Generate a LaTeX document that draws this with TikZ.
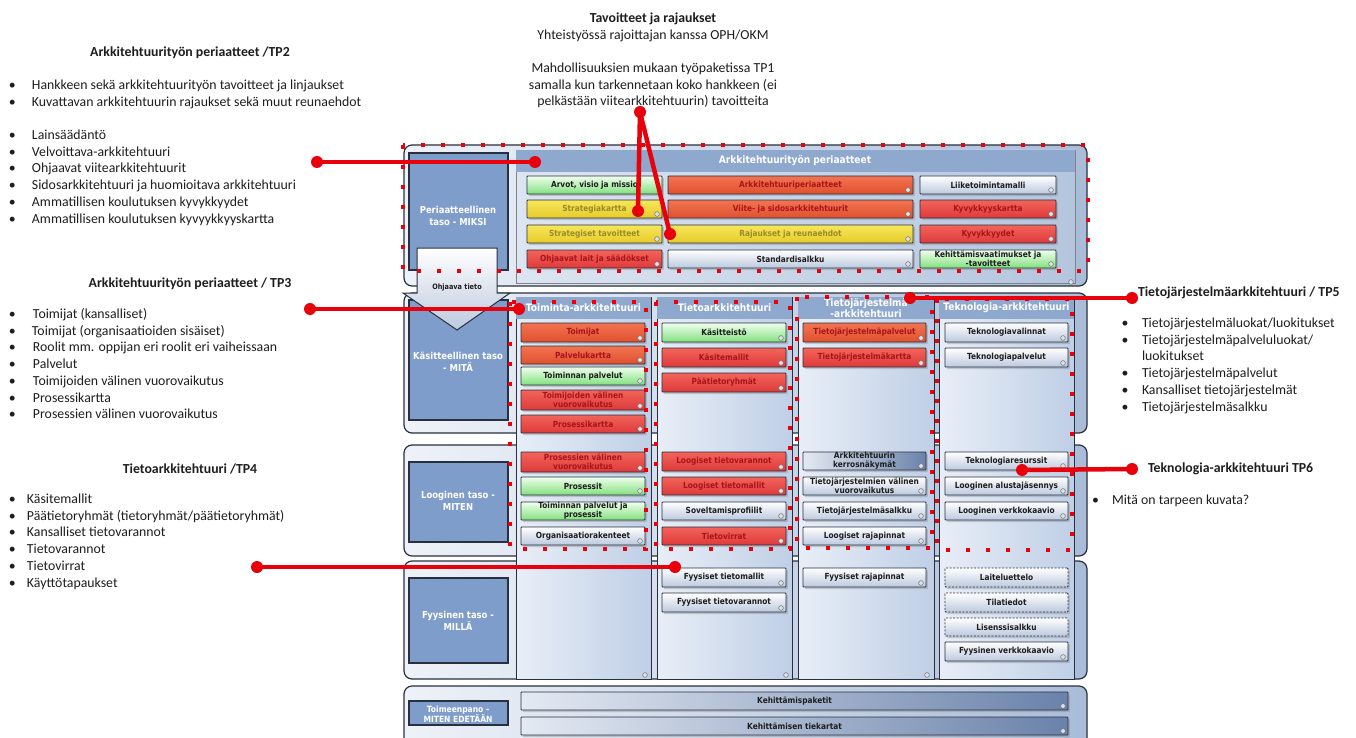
\documentclass[tikz,border=0pt]{standalone}
\usepackage{fontspec}
\setmainfont{Carlito}
\newfontfamily\bxfont{DejaVu Sans}[FakeStretch=0.88]
\usetikzlibrary{shadows}
\definecolor{ink}{HTML}{1E1E1E}
\definecolor{edge}{HTML}{283040}
\definecolor{redc}{HTML}{E8000A}
\definecolor{rowL}{HTML}{EEF2F8}
\definecolor{rowR}{HTML}{A9BCD8}
\definecolor{colL}{HTML}{E8EEF7}
\definecolor{colR}{HTML}{BFCFE6}
\definecolor{hdr}{HTML}{8FA8CE}
\definecolor{lbl}{HTML}{7F9DCB}
\definecolor{inL}{HTML}{DCE5F1}
\definecolor{inR}{HTML}{B4C5DE}
\definecolor{redT}{HTML}{F2645A}
\definecolor{redB}{HTML}{DE3A3A}
\definecolor{orgT}{HTML}{F27452}
\definecolor{orgB}{HTML}{E0502E}
\definecolor{yelT}{HTML}{F7E65A}
\definecolor{yelB}{HTML}{E6CC2A}
\definecolor{grnT}{HTML}{F0FFEE}
\definecolor{grnB}{HTML}{82E07E}
\definecolor{whtT}{HTML}{FFFFFF}
\definecolor{whtB}{HTML}{BCC9DE}
\definecolor{bluL}{HTML}{E4EAF3}
\definecolor{bluR}{HTML}{6A82AA}
\definecolor{redtxt}{HTML}{A8141A}
\definecolor{yeltxt}{HTML}{9A8A2A}
\newcommand\mkbox[7]{%
  \node[#6, minimum width={#4-#2}, minimum height={#5-#3}] (#1) at ({(#2+#4)/2},{(#3+#5)/2}) {#7};%
  \path[icon] ({#4-5},{#5-4}) circle (2.4pt);}
\newcommand\mkboxn[7]{%
  \node[#6, minimum width={#4-#2}, minimum height={#5-#3}] (#1) at ({(#2+#4)/2},{(#3+#5)/2}) {#7};}
\newcommand\mkcol[4]{%
  \path[colbody] (#2,297) rectangle (#3,679);
  \path[colhead] (#2,297) rectangle (#3,319);
  \node[coltxt] (#1) at ({(#2+#3)/2},308) {#4};}
\newcommand\mkli[6]{% name, bullet x, gap, y, text
  \node[lst, anchor=base west] (#1) at (#2,{#4+4.5}) {\makebox[#3pt][l]{\textbullet}#5};}
\begin{document}
\begin{tikzpicture}[x=1pt,y=-1pt,
  every node/.style={inner sep=0pt,outer sep=0pt},
  lst/.style={font=\fontsize{13.8}{16.7}\selectfont, text=ink},
  lsthd/.style={font=\bfseries\fontsize{13.8}{16.7}\selectfont, text=ink},
  shd/.style={drop shadow={opacity=0.35,shadow xshift=1.8pt,shadow yshift=-2pt}},
  bxbase/.style={shd, draw=edge, line width=0.9pt, rounded corners=0.8pt, align=center, font=\bxfont\bfseries\fontsize{8.4}{9.3}\selectfont},
  bred/.style={bxbase, top color=redT, bottom color=redB, text=redtxt},
  borg/.style={bxbase, top color=orgT, bottom color=orgB, text=redtxt},
  byel/.style={bxbase, top color=yelT, bottom color=yelB, text=yeltxt},
  bgreen/.style={bxbase, top color=grnT, bottom color=grnB, text=ink},
  bwhite/.style={bxbase, top color=whtT, bottom color=whtB, text=ink},
  bblue/.style={bxbase, left color=bluL, right color=bluR, text=ink},
  bdash/.style={bxbase, top color=whtT, bottom color=whtB, text=ink, dash pattern=on 2pt off 1.5pt},
  icon/.style={fill=white!85!edge, draw=edge!70, line width=0.5pt},
  rowp/.style={draw=edge, line width=1.2pt, rounded corners=8pt, left color=rowL, right color=rowR},
  lblbox/.style={draw=edge, line width=1.1pt, fill=lbl},
  lbltxt/.style={align=center, text=white, font=\bxfont\bfseries\fontsize{9.6}{11.5}\selectfont},
  coltxt/.style={align=center, text=white, font=\bxfont\bfseries\fontsize{10.3}{10.8}\selectfont},
  colbody/.style={draw=edge, line width=0.9pt, left color=colL, right color=colR},
  colhead/.style={fill=hdr},
  reddots/.style={draw=redc, line width=4pt, dash pattern=on 4pt off 16pt},
  rcon/.style={draw=redc, line width=4.5pt},
  rdot/.style={circle, fill=redc, minimum size=12pt},
]
\useasboundingbox (0,0) rectangle (1356,738);
\fill[white] (0,0) rectangle (1356,738);

% row panels
\path[rowp] (404,145) rectangle (1087,286);
\path[rowp] (404,293) rectangle (1087,433);
\path[rowp] (404,445) rectangle (1087,556);
\path[rowp] (404,561) rectangle (1087,679);
\path[rowp] (404,686) rectangle (1087,770);

% level label boxes
\node[lblbox, minimum width=99, minimum height=117] (lab1) at (458.5,211.5) {};
\node[lbltxt] (lab1t) at (458,216) {Periaatteellinen\\taso - MIKSI};
\node[lblbox, minimum width=99, minimum height=120] (lab2) at (458.5,360) {};
\node[lbltxt] (lab2t) at (458,362) {Käsitteellinen taso\\- MITÄ};
\node[lblbox, minimum width=99, minimum height=80] (lab3) at (458.5,502) {};
\node[lbltxt] (lab3t) at (458,501) {Looginen taso -\\MITEN};
\node[lblbox, minimum width=99, minimum height=85] (lab4) at (458.5,620.5) {};
\node[lbltxt] (lab4t) at (458,621) {Fyysinen taso -\\MILLÄ};
\node[lblbox, minimum width=99, minimum height=24] (lab5) at (458.5,713) {};
\node[lbltxt, font=\bxfont\bfseries\fontsize{8.6}{10.5}\selectfont] (lab5t) at (458,714) {Toimeenpano -\\MITEN EDETÄÄN};

% guiding arrow
\path[draw=edge, line width=1pt, top color=white, bottom color=whtB] (417,248) -- (497,248) -- (497,293) -- (510,293) -- (457,330) -- (403,293) -- (417,293) -- cycle;
\node[font=\bxfont\bfseries\fontsize{7.4}{8}\selectfont, text=ink] (ohj) at (457,287) {Ohjaava tieto};

% row 1 inner panel
\path[draw=edge!60, line width=0.6pt, left color=inL, right color=inR] (516,150) rectangle (1075,283);
\path[fill=hdr] (516,150) rectangle (1075,172);
\node[coltxt] (apt) at (795,161) {Arkkitehtuurityön periaatteet};

% columns
\mkcol{ctoim}{516}{651}{Toiminta-arkkitehtuuri}
\mkcol{ctieto}{657}{792}{Tietoarkkitehtuuri}
\mkcol{ctj}{798}{934}{Tietojärjestelmä\\-arkkitehtuuri}
\mkcol{ctek}{939}{1074}{Teknologia-arkkitehtuuri}

% row 1 boxes
\mkboxn{arvot}{527}{176}{662}{194}{bgreen}{Arvot, visio ja missio}
\mkbox{strk}{527}{200}{662}{218}{byel}{Strategiakartta}
\mkbox{strt}{527}{225}{662}{243}{byel}{Strategiset tavoitteet}
\mkbox{lait}{527}{250}{662}{268}{bred}{Ohjaavat lait ja säädökset}
\mkbox{akp}{668}{176}{913}{194}{borg}{Arkkitehtuuriperiaatteet}
\mkbox{viite}{668}{200}{913}{218}{borg}{Viite- ja sidosarkkitehtuurit}
\mkbox{raj}{668}{225}{913}{243}{byel}{Rajaukset ja reunaehdot}
\mkbox{std}{668}{250}{913}{268}{bwhite}{Standardisalkku}
\mkbox{liike}{920}{176}{1056}{194}{bwhite}{Liiketoimintamalli}
\mkbox{kkart}{920}{200}{1056}{218}{bred}{Kyvykkyyskartta}
\mkbox{kyv}{920}{225}{1056}{243}{bred}{Kyvykkyydet}
\mkbox{kehv}{920}{250}{1056}{268}{bgreen}{Kehittämisvaatimukset ja\\-tavoitteet}

% row 2 boxes
\mkbox{toimijat}{521}{323}{645}{342}{borg}{Toimijat}
\mkbox{palvk}{521}{346}{645}{364}{borg}{Palvelukartta}
\mkbox{toimp}{521}{367}{645}{385}{bgreen}{Toiminnan palvelut}
\mkbox{tvv}{521}{390}{645}{410}{bred}{Toimijoiden välinen\\vuorovaikutus}
\mkbox{proskart}{521}{415}{645}{433}{bred}{Prosessikartta}
\mkbox{kasitt}{662}{323}{786}{342}{bgreen}{Käsitteistö}
\mkbox{kasm}{662}{348}{786}{367}{bred}{Käsitemallit}
\mkbox{ptr}{662}{373}{786}{392}{bred}{Päätietoryhmät}
\mkbox{tjp}{803}{323}{926}{342}{borg}{Tietojärjestelmäpalvelut}
\mkbox{tjk}{803}{348}{926}{367}{bred}{Tietojärjestelmäkartta}
\mkbox{tval}{945}{323}{1068}{342}{bwhite}{Teknologiavalinnat}
\mkbox{tpal}{945}{348}{1068}{367}{bwhite}{Teknologiapalvelut}

% row 3 boxes
\mkbox{pvv}{521}{452}{645}{472}{bred}{Prosessien välinen\\vuorovaikutus}
\mkbox{pros}{521}{477}{645}{495}{bgreen}{Prosessit}
\mkboxn{tpp}{521}{502}{645}{520}{bgreen}{Toiminnan palvelut ja\\prosessit}
\mkbox{org}{521}{527}{645}{545}{bwhite}{Organisaatiorakenteet}
\mkbox{ltv}{662}{452}{786}{471}{bred}{Loogiset tietovarannot}
\mkbox{ltm}{662}{477}{786}{495}{bred}{Loogiset tietomallit}
\mkbox{sov}{662}{502}{786}{520}{bwhite}{Soveltamisprofiilit}
\mkbox{tvir}{662}{527}{786}{545}{bred}{Tietovirrat}
\mkbox{akn}{803}{452}{926}{470}{bblue}{Arkkitehtuurin\\kerrosnäkymät}
\mkbox{tjvv}{803}{477}{926}{495}{bwhite}{Tietojärjestelmien välinen\\vuorovaikutus}
\mkbox{tjs}{803}{502}{926}{520}{bwhite}{Tietojärjestelmäsalkku}
\mkbox{lraj}{803}{527}{926}{545}{bwhite}{Loogiset rajapinnat}
\mkbox{tres}{945}{452}{1068}{470}{bwhite}{Teknologiaresurssit}
\mkbox{laj}{945}{477}{1068}{495}{bwhite}{Looginen alustajäsennys}
\mkbox{lvk}{945}{502}{1068}{520}{bwhite}{Looginen verkkokaavio}

% row 4 boxes
\mkbox{ftm}{662}{568}{786}{587}{bwhite}{Fyysiset tietomallit}
\mkbox{ftv}{662}{593}{786}{612}{bwhite}{Fyysiset tietovarannot}
\mkbox{fraj}{803}{568}{926}{587}{bwhite}{Fyysiset rajapinnat}
\mkboxn{laite}{945}{568}{1068}{587}{bdash}{Laiteluettelo}
\mkboxn{tila}{945}{593}{1068}{612}{bdash}{Tilatiedot}
\mkboxn{lis}{945}{618}{1068}{636}{bdash}{Lisenssisalkku}
\mkbox{fvk}{945}{642}{1068}{661}{bwhite}{Fyysinen verkkokaavio}

% row 5 bars
\mkbox{kpak}{521}{692}{1068}{710}{bblue}{Kehittämispaketit}
\mkbox{ktie}{521}{717}{1068}{735}{bblue}{Kehittämisen tiekartat}

% panel icons
\path[icon] (1071,282) circle (2.4pt);
\path[icon] (645,675) circle (2.4pt);
\path[icon] (786,675) circle (2.4pt);
\path[icon] (927,675) circle (2.4pt);

% red dotted frames
\path[reddots] (403,145) rectangle (1088,271);
\path[reddots] (510,302) rectangle (646,549);
\path[reddots] (656,302) rectangle (790,549);
\path[reddots] (797,297) rectangle (932,548);
\path[reddots] (937,299) rectangle (1072,550);

% red connectors
\node[rdot] (p2a) at (317,162) {};
\node[rdot] (p2b) at (535,162) {};
\draw[rcon] (p2a.center) -- (p2b.center);
\node[rdot] (p1a) at (640,112) {};
\node[rdot] (p1b) at (638,211) {};
\node[rdot] (p1c) at (670,234) {};
\draw[rcon] (p1a.center) -- (p1b.center);
\draw[rcon] (p1a.center) -- (p1c.center);
\node[rdot] (p3a) at (310,309) {};
\node[rdot] (p3b) at (519,309) {};
\draw[rcon] (p3a.center) -- (p3b.center);
\node[rdot] (p4a) at (257,567) {};
\node[rdot] (p4b) at (675,567) {};
\draw[rcon] (p4a.center) -- (p4b.center);
\node[rdot] (p5a) at (910,298) {};
\node[rdot] (p5b) at (1132,298) {};
\draw[rcon] (p5a.center) -- (p5b.center);
\node[rdot] (p6a) at (1022,470) {};
\node[rdot] (p6b) at (1132,469) {};
\draw[rcon] (p6a.center) -- (p6b.center);

% top centre text
\node[lsthd, anchor=base] (tv1) at (653,22.5) {Tavoitteet ja rajaukset};
\node[lst, anchor=base] (tv2) at (653,39.5) {Yhteistyössä rajoittajan kanssa OPH/OKM};
\node[lst, anchor=base] (tv3) at (653,72.5) {Mahdollisuuksien mukaan työpaketissa TP1};
\node[lst, anchor=base] (tv4) at (653,89.2) {samalla kun tarkennetaan koko hankkeen (ei};
\node[lst, anchor=base] (tv5) at (653,105.9) {pelkästään viitearkkitehtuurin) tavoitteita};

% TP2
\node[lsthd, anchor=base] (h2) at (190,57) {Arkkitehtuurityön periaatteet /TP2};
\mkli{a1}{9}{23}{85}{Hankkeen sekä arkkitehtuurityön tavoitteet ja linjaukset}{}
\mkli{a2}{9}{23}{102}{Kuvattavan arkkitehtuurin rajaukset sekä muut reunaehdot}{}
\mkli{a3}{9}{23}{135}{Lainsäädäntö}{}
\mkli{a4}{9}{23}{152}{Velvoittava-arkkitehtuuri}{}
\mkli{a5}{9}{23}{168.5}{Ohjaavat viitearkkitehtuurit}{}
\mkli{a6}{9}{23}{185}{Sidosarkkitehtuuri ja huomioitava arkkitehtuuri}{}
\mkli{a7}{9}{23}{202}{Ammatillisen koulutuksen kyvykkyydet}{}
\mkli{a8}{9}{23}{218.5}{Ammatillisen koulutuksen kyvyykkyyskartta}{}

% TP3
\node[lsthd, anchor=base] (h3) at (190,287.5) {Arkkitehtuurityön periaatteet / TP3};
\mkli{b1}{9}{24}{314}{Toimijat (kansalliset)}{}
\mkli{b2}{9}{23}{330.7}{Toimijat (organisaatioiden sisäiset)}{}
\mkli{b3}{9}{24}{347.4}{Roolit mm. oppijan eri roolit eri vaiheissaan}{}
\mkli{b4}{9}{24}{364}{Palvelut}{}
\mkli{b5}{9}{24}{380.8}{Toimijoiden välinen vuorovaikutus}{}
\mkli{b6}{9}{24}{397.5}{Prosessikartta}{}
\mkli{b7}{9}{24}{414.2}{Prosessien välinen vuorovaikutus}{}

% TP4
\node[lsthd, anchor=base] (h4) at (190,473) {Tietoarkkitehtuuri /TP4};
\mkli{c1}{9}{18}{499}{Käsitemallit}{}
\mkli{c2}{9}{18}{515.7}{Päätietoryhmät (tietoryhmät/päätietoryhmät)}{}
\mkli{c3}{9}{18}{532.4}{Kansalliset tietovarannot}{}
\mkli{c4}{9}{18}{549.1}{Tietovarannot}{}
\mkli{c5}{9}{18}{565.8}{Tietovirrat}{}
\mkli{c6}{9}{18}{582.5}{Käyttötapaukset}{}

% TP5
\node[lsthd, anchor=base west] (h5) at (1138,296.5) {Tietojärjestelmäarkkitehtuuri / TP5};
\mkli{d1}{1121.5}{20.5}{323}{Tietojärjestelmäluokat/luokitukset}{}
\mkli{d2}{1121.5}{20.5}{339.7}{Tietojärjestelmäpalveluluokat/}{}
\node[lst, anchor=base west] (d2b) at (1142,360.9) {luokitukset};
\mkli{d3}{1121.5}{20.5}{373.1}{Tietojärjestelmäpalvelut}{}
\mkli{d4}{1121.5}{20.5}{389.8}{Kansalliset tietojärjestelmät}{}
\mkli{d5}{1121.5}{20.5}{406.5}{Tietojärjestelmäsalkku}{}

% TP6
\node[lsthd, anchor=base west] (h6) at (1148,472.5) {Teknologia-arkkitehtuuri TP6};
\mkli{e1}{1092}{20}{500}{Mitä on tarpeen kuvata?}{}
\end{tikzpicture}
\end{document}
